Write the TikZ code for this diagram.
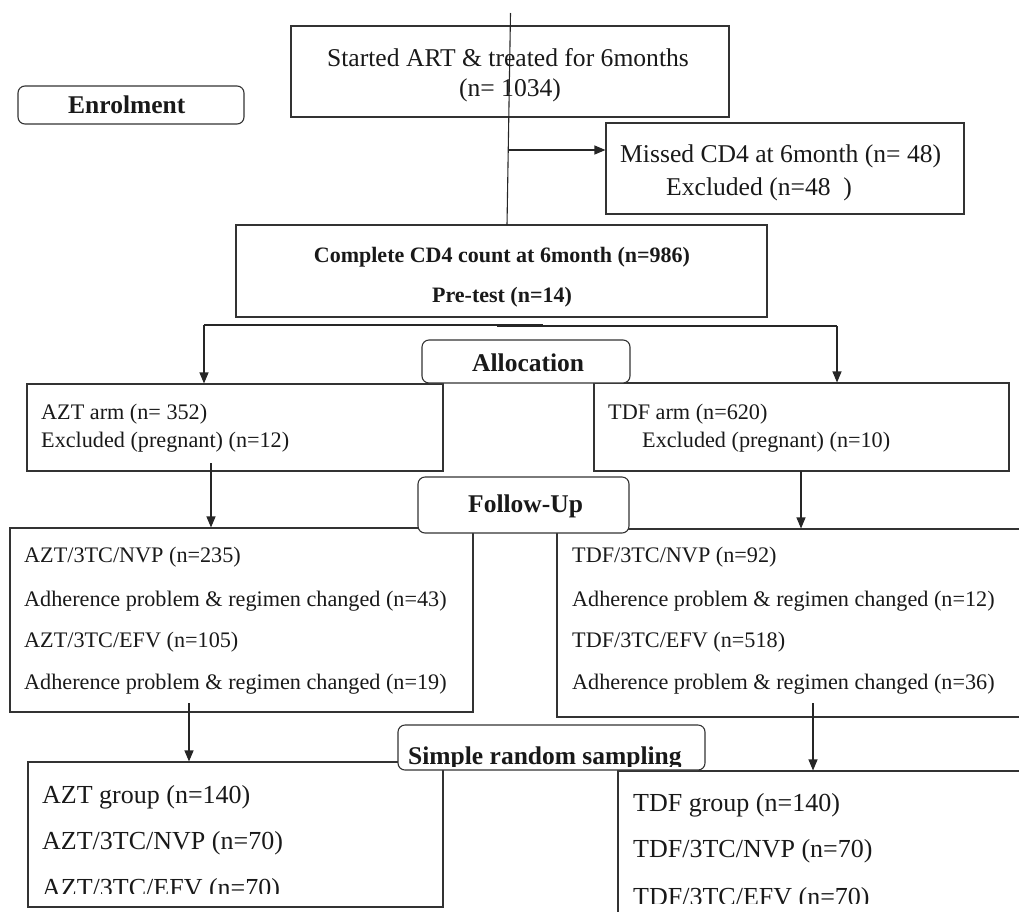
\documentclass[tikz,border=0pt]{standalone}
\usepackage{fontspec}
\setmainfont{Liberation Serif}
\usetikzlibrary{arrows.meta,fit}
\begin{document}
\begin{tikzpicture}[x=1pt,y=-1pt,
  box/.style={draw=black!80, line width=1.1pt, inner sep=0pt},
  lbl/.style={box, rounded corners=7pt, fill=white},
  ln/.style={draw=black!85, line width=1.1pt},
  arr/.style={ln, -{Triangle[length=11pt,width=9pt]}},
  txt/.style={anchor=base west, inner sep=0pt, text=black!90},
  tA/.style={txt, font=\fontsize{22.2}{26}\selectfont},
  tB/.style={txt, font=\fontsize{25.6}{30}\selectfont},
  tC/.style={txt, font=\fontsize{26}{30}\selectfont},
  bA/.style={txt, font=\fontsize{22}{26}\selectfont\bfseries},
  bB/.style={txt, font=\fontsize{25.5}{30}\selectfont\bfseries}
]
\useasboundingbox (0,0) rectangle (1019,911);
\clip (0,0) rectangle (1019,911);

% ---- main boxes
\node[box, fit={(291,26) (729,117)}] (start) {};
\node[box, fit={(606,123) (964,214)}] (missed) {};
\node[box, fit={(236,225) (767,317)}] (cd4) {};
\node[box, fit={(27,384) (443,471)}] (aztarm) {};
\node[box, fit={(594,383) (1009,471)}] (tdfarm) {};
\node[box, fit={(10,528) (473,712)}] (aztfu) {};
\node[box, fit={(557,529) (1040,717)}] (tdffu) {};
\node[box, fit={(28,762) (443,907)}] (aztgrp) {};
\node[box, fit={(618,771) (1040,940)}] (tdfgrp) {};

% ---- stage labels
\node[lbl, fit={(18,86) (244,124)}] (enrol) {};
\node[lbl, fit={(422,340) (630,383)}] (alloc) {};
\node[lbl, fit={(418,477) (629,533)}] (follow) {};
\node[lbl, fit={(398,725) (705,770)}] (srs) {};

% ---- texts
\node[tB, anchor=base] (st1) at (508,66) {Started ART \& treated for 6months};
\node[tB, anchor=base] (st2) at (510,96) {(n= 1034)};
\node[tB] (mi1) at (620,162) {Missed CD4 at 6month (n= 48)};
\node[tB] (mi2) at (666,195) {Excluded (n=48\ \ )};
\node[bA, anchor=base] (cd1) at (502,262) {Complete CD4 count at 6month (n=986)};
\node[bA, anchor=base] (cd2) at (502,302) {Pre-test (n=14)};
\node[bB] (enT) at (68,113) {Enrolment};
\node[bB] (alT) at (472,371) {Allocation};
\node[bB] (fuT) at (468,512) {Follow-Up};
\begin{scope}
  \clip (398,725) rectangle (705,766);
  \node[bB] (srT) at (408,764) {Simple random sampling};
\end{scope}

\node[tA] (aa1) at (41,419) {AZT arm (n= 352)};
\node[tA] (aa2) at (41,447) {Excluded (pregnant) (n=12)};
\node[tA] (ta1) at (608,419) {TDF arm (n=620)};
\node[tA] (ta2) at (642,447) {Excluded (pregnant) (n=10)};

\node[tA] (af1) at (24,562) {AZT/3TC/NVP (n=235)};
\node[tA] (af2) at (24,606) {Adherence problem \& regimen changed (n=43)};
\node[tA] (af3) at (24,647) {AZT/3TC/EFV (n=105)};
\node[tA] (af4) at (24,689) {Adherence problem \& regimen changed (n=19)};
\node[tA] (tf1) at (572,562) {TDF/3TC/NVP (n=92)};
\node[tA] (tf2) at (572,606) {Adherence problem \& regimen changed (n=12)};
\node[tA] (tf3) at (572,647) {TDF/3TC/EFV (n=518)};
\node[tA] (tf4) at (572,689) {Adherence problem \& regimen changed (n=36)};

\node[tC] (ag1) at (42,803) {AZT group (n=140)};
\node[tC] (ag2) at (42,849) {AZT/3TC/NVP (n=70)};
\begin{scope}
  \clip (28,860) rectangle (443,893);
  \node[tC] (ag3) at (42,896) {AZT/3TC/EFV (n=70)};
\end{scope}
\node[tC] (tg1) at (633,811) {TDF group (n=140)};
\node[tC] (tg2) at (633,857) {TDF/3TC/NVP (n=70)};
\begin{scope}
  \clip (618,868) rectangle (1019,903);
  \node[tC] (tg3) at (633,905) {TDF/3TC/EFV (n=70)};
\end{scope}

% ---- connectors
\coordinate (vtop) at (510.5,13);
\coordinate (vbot) at (507,225);
\draw[ln] (vtop) -- (vbot);
\coordinate (mj) at (509,150);
\draw[arr] (mj) -- (mj -| missed.west);

\coordinate (sl) at (204,325);
\coordinate (sr) at (837,326);
\draw[ln] (sl) -- (543,325);
\draw[ln] (497,326) -- (sr);
\draw[arr] (sl) -- (sl |- aztarm.north);
\draw[arr] (sr) -- (sr |- tdfarm.north);

\coordinate (a1) at (211,463);
\draw[arr] (a1) -- (a1 |- aztfu.north);
\coordinate (b1) at (801,471);
\draw[arr] (b1) -- (b1 |- tdffu.north);
\coordinate (a2) at (189,703);
\draw[arr] (a2) -- (a2 |- aztgrp.north);
\coordinate (b2) at (813,703);
\draw[arr] (b2) -- (b2 |- tdfgrp.north);
\end{tikzpicture}
\end{document}
